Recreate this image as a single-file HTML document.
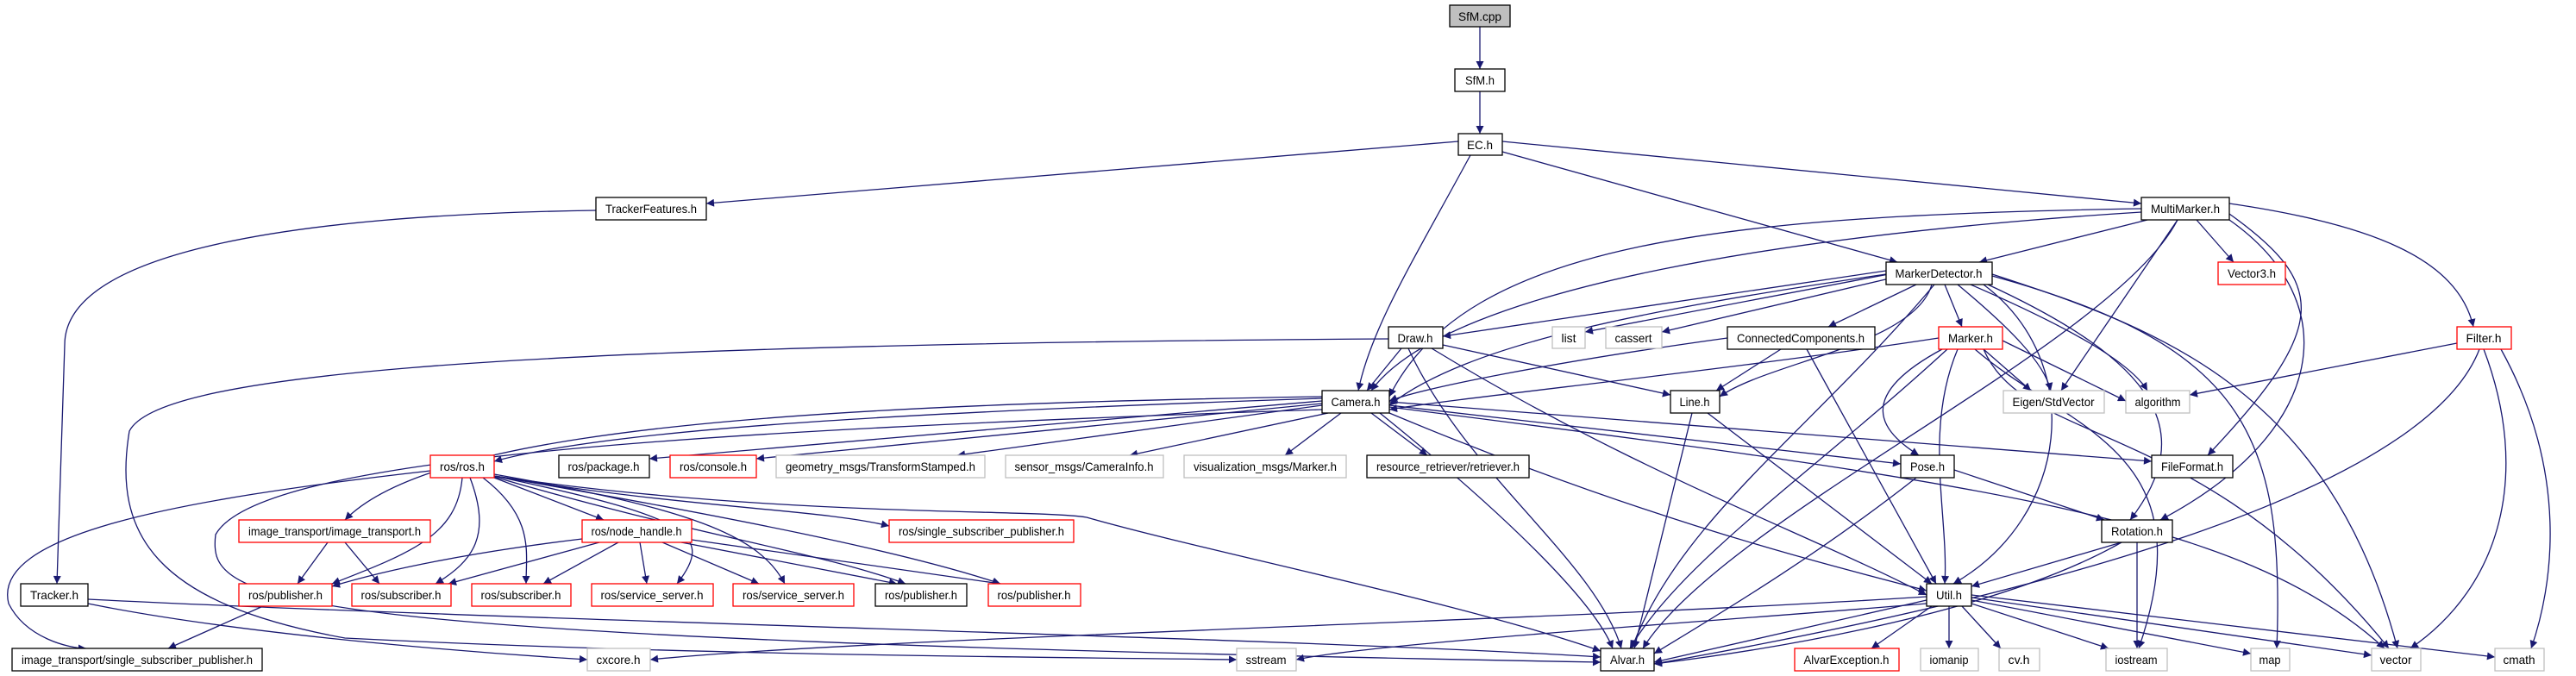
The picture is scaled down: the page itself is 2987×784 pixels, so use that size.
<!DOCTYPE html>
<html><head><meta charset="utf-8"><style>
html,body{margin:0;padding:0;background:#fff;width:2987px;height:784px;overflow:hidden}
svg{display:block}
.e{fill:none;stroke:#191970;stroke-width:1.3;marker-end:url(#a)}
.b{fill:#fff;stroke:#000;stroke-width:1.3}
.r{fill:#fff;stroke:#ff0000;stroke-width:1.3}
.g{fill:#fff;stroke:#bfbfbf;stroke-width:1.3}
text{font-family:"Liberation Sans",sans-serif;font-size:14px;fill:#000;text-anchor:middle}
</style></head><body>
<svg width="2987" height="784" viewBox="0 0 2987 784">
<defs><marker id="a" viewBox="0 0 10 10" refX="10" refY="5" markerWidth="11" markerHeight="9" markerUnits="userSpaceOnUse" orient="auto"><path d="M0,0 L10,5 L0,10 z" fill="#191970"/></marker></defs>
<g>
<path class="e" d="M1716,31 L1716,80"/>
<path class="e" d="M1716,106 L1716,155"/>
<path class="e" d="M1691,164 L819,236"/>
<path class="e" d="M1742,164 L2483,236"/>
<path class="e" d="M1742,176 L2200,304"/>
<path class="e" d="M1705,180 C1640,300 1590,380 1575,453"/>
<path class="e" d="M691,244 C300,250 75,300 75,400 L66,677"/>
<path class="e" d="M102,700 C300,740 600,760 681,765"/>
<path class="e" d="M102,695 C600,720 1500,740 1856,762"/>
<path class="e" d="M2490,255 L2295,304"/>
<path class="e" d="M2483,242 C2000,250 1700,280 1611,460"/>
<path class="e" d="M2483,246 C2100,270 1680,330 1590,453"/>
<path class="e" d="M2525,255 C2450,400 2000,600 1905,752"/>
<path class="e" d="M2547,255 L2590,304"/>
<path class="e" d="M2525,255 L2390,453"/>
<path class="e" d="M2585,248 C2700,330 2700,380 2560,528"/>
<path class="e" d="M2585,255 C2720,350 2700,500 2505,603"/>
<path class="e" d="M2585,236 C2750,260 2850,300 2868,379"/>
<path class="e" d="M2187,314 L1673,390"/>
<path class="e" d="M2190,318 L1838,385"/>
<path class="e" d="M2195,322 L1927,385"/>
<path class="e" d="M2187,318 C1900,360 1700,400 1611,470"/>
<path class="e" d="M2222,330 L2120,379"/>
<path class="e" d="M2255,330 L2275,379"/>
<path class="e" d="M2240,330 C2220,400 2050,420 1994,460"/>
<path class="e" d="M2270,330 C2330,380 2370,420 2378,453"/>
<path class="e" d="M2285,330 C2400,380 2470,420 2490,453"/>
<path class="e" d="M2243,330 C2100,500 1950,600 1892,752"/>
<path class="e" d="M2300,330 C2420,420 2400,600 2265,677"/>
<path class="e" d="M2305,330 C2500,420 2550,500 2470,603"/>
<path class="e" d="M2310,320 C2600,400 2650,500 2640,752"/>
<path class="e" d="M2310,318 C2500,380 2700,450 2780,752"/>
<path class="e" d="M2003,392 C1800,420 1650,450 1611,465"/>
<path class="e" d="M2065,405 L1990,453"/>
<path class="e" d="M2095,405 L2245,677"/>
<path class="e" d="M2248,392 C2000,430 1700,460 1611,475"/>
<path class="e" d="M2300,405 L2355,453"/>
<path class="e" d="M2322,395 L2465,465"/>
<path class="e" d="M2252,405 C2150,460 2180,500 2225,528"/>
<path class="e" d="M2270,405 C2230,500 2260,600 2255,677"/>
<path class="e" d="M2258,405 C2100,550 1950,650 1890,752"/>
<path class="e" d="M2290,405 C2400,500 2560,520 2480,752"/>
<path class="e" d="M2300,405 C2350,520 2550,480 2770,752"/>
<path class="e" d="M2849,398 L2539,458"/>
<path class="e" d="M2875,405 C2800,600 2200,720 1918,770"/>
<path class="e" d="M2880,405 C2935,550 2900,680 2795,752"/>
<path class="e" d="M2900,405 C2980,550 2960,680 2935,752"/>
<path class="e" d="M1625,404 L1585,453"/>
<path class="e" d="M1673,400 L1937,458"/>
<path class="e" d="M1660,404 C1900,550 2100,620 2234,690"/>
<path class="e" d="M1633,404 C1700,550 1850,650 1880,752"/>
<path class="e" d="M1610,393 C500,400 180,440 150,500 C130,620 180,700 400,740 C800,760 1200,762 1434,765"/>
<path class="e" d="M1962,479 L1895,752"/>
<path class="e" d="M1980,479 L2240,677"/>
<path class="e" d="M1533,462 C1000,480 700,500 573,535"/>
<path class="e" d="M1533,465 L753,532"/>
<path class="e" d="M1533,468 L877,532"/>
<path class="e" d="M1533,470 L1110,528"/>
<path class="e" d="M1540,479 L1310,528"/>
<path class="e" d="M1555,479 L1490,528"/>
<path class="e" d="M1590,479 L1655,528"/>
<path class="e" d="M1611,470 L2204,538"/>
<path class="e" d="M1611,466 L2495,535"/>
<path class="e" d="M1611,479 C1900,600 2100,650 2234,685"/>
<path class="e" d="M1600,479 C1750,600 1850,700 1870,752"/>
<path class="e" d="M1533,460 C900,470 500,500 400,603"/>
<path class="e" d="M1611,472 C2300,560 2600,600 2765,752"/>
<path class="e" d="M1533,475 C800,500 300,530 250,620 C240,700 300,740 1856,768"/>
<path class="e" d="M499,546 C200,580 -10,620 10,700 C30,740 80,752 100,752"/>
<path class="e" d="M536,554 C530,620 480,640 385,677"/>
<path class="e" d="M545,554 C570,620 550,650 505,677"/>
<path class="e" d="M560,554 C620,600 610,640 610,677"/>
<path class="e" d="M573,554 L700,603"/>
<path class="e" d="M573,552 C800,600 830,620 785,677"/>
<path class="e" d="M573,550 C800,590 880,620 910,677"/>
<path class="e" d="M573,552 C800,590 950,590 1031,610"/>
<path class="e" d="M573,553 C800,620 950,640 1050,677"/>
<path class="e" d="M573,552 C850,600 1050,640 1160,677"/>
<path class="e" d="M573,552 C900,600 1200,590 1260,600 C1400,640 1700,700 1856,755"/>
<path class="e" d="M380,629 L345,677"/>
<path class="e" d="M400,629 L440,677"/>
<path class="e" d="M675,625 C550,640 450,660 385,680"/>
<path class="e" d="M695,629 L520,677"/>
<path class="e" d="M717,629 L630,677"/>
<path class="e" d="M742,629 L750,677"/>
<path class="e" d="M768,629 L880,677"/>
<path class="e" d="M790,629 L1040,677"/>
<path class="e" d="M802,626 L1160,677"/>
<path class="e" d="M305,703 L195,752"/>
<path class="e" d="M2266,545 L2440,603"/>
<path class="e" d="M2222,554 C2100,650 1980,720 1918,758"/>
<path class="e" d="M2460,629 L2286,680"/>
<path class="e" d="M2460,629 C2300,720 2000,760 1918,770"/>
<path class="e" d="M2478,629 L2478,752"/>
<path class="e" d="M2240,703 L2170,752"/>
<path class="e" d="M2260,703 L2260,752"/>
<path class="e" d="M2275,703 L2320,752"/>
<path class="e" d="M2286,700 L2445,752"/>
<path class="e" d="M2286,696 L2610,758"/>
<path class="e" d="M2286,693 L2750,760"/>
<path class="e" d="M2286,690 L2893,762"/>
<path class="e" d="M2234,696 L1918,768"/>
<path class="e" d="M2234,700 C2000,720 1600,745 1503,765"/>
<path class="e" d="M2234,692 C1800,720 1000,740 754,765"/>
</g>
<g>
<rect x="1681" y="6" width="70" height="25" fill="#bfbfbf" stroke="#000" stroke-width="1.3"/><text x="1716" y="24" textLength="50" lengthAdjust="spacingAndGlyphs">SfM.cpp</text>
<rect class="b" x="1687" y="80" width="58" height="26"/><text x="1716" y="98" textLength="34" lengthAdjust="spacingAndGlyphs">SfM.h</text>
<rect class="b" x="1691" y="155" width="51" height="25"/><text x="1716" y="173" textLength="30" lengthAdjust="spacingAndGlyphs">EC.h</text>
<rect class="b" x="691" y="229" width="128" height="26"/><text x="755" y="247" textLength="106" lengthAdjust="spacingAndGlyphs">TrackerFeatures.h</text>
<rect class="b" x="2483" y="229" width="102" height="26"/><text x="2534" y="247" textLength="80" lengthAdjust="spacingAndGlyphs">MultiMarker.h</text>
<rect class="b" x="2187" y="304" width="123" height="26"/><text x="2248" y="322" textLength="101" lengthAdjust="spacingAndGlyphs">MarkerDetector.h</text>
<rect class="r" x="2572" y="304" width="78" height="26"/><text x="2611" y="322" textLength="56" lengthAdjust="spacingAndGlyphs">Vector3.h</text>
<rect class="b" x="1610" y="379" width="63" height="25"/><text x="1641" y="397" textLength="41" lengthAdjust="spacingAndGlyphs">Draw.h</text>
<rect class="g" x="1800" y="379" width="38" height="25"/><text x="1819" y="397" textLength="17" lengthAdjust="spacingAndGlyphs">list</text>
<rect class="g" x="1862" y="379" width="65" height="25"/><text x="1894" y="397" textLength="43" lengthAdjust="spacingAndGlyphs">cassert</text>
<rect class="b" x="2003" y="379" width="171" height="26"/><text x="2088" y="397" textLength="148" lengthAdjust="spacingAndGlyphs">ConnectedComponents.h</text>
<rect class="r" x="2248" y="379" width="74" height="26"/><text x="2285" y="397" textLength="52" lengthAdjust="spacingAndGlyphs">Marker.h</text>
<rect class="r" x="2849" y="379" width="63" height="26"/><text x="2880" y="397" textLength="41" lengthAdjust="spacingAndGlyphs">Filter.h</text>
<rect class="b" x="1533" y="453" width="78" height="26"/><text x="1572" y="471" textLength="57" lengthAdjust="spacingAndGlyphs">Camera.h</text>
<rect class="b" x="1937" y="453" width="57" height="26"/><text x="1965" y="471" textLength="35" lengthAdjust="spacingAndGlyphs">Line.h</text>
<rect class="g" x="2323" y="453" width="117" height="26"/><text x="2381" y="471" textLength="95" lengthAdjust="spacingAndGlyphs">Eigen/StdVector</text>
<rect class="g" x="2465" y="453" width="74" height="26"/><text x="2502" y="471" textLength="53" lengthAdjust="spacingAndGlyphs">algorithm</text>
<rect class="r" x="499" y="528" width="74" height="26"/><text x="536" y="546" textLength="52" lengthAdjust="spacingAndGlyphs">ros/ros.h</text>
<rect class="b" x="648" y="528" width="105" height="26"/><text x="700" y="546" textLength="83" lengthAdjust="spacingAndGlyphs">ros/package.h</text>
<rect class="r" x="777" y="528" width="100" height="26"/><text x="827" y="546" textLength="78" lengthAdjust="spacingAndGlyphs">ros/console.h</text>
<rect class="g" x="900" y="528" width="242" height="26"/><text x="1021" y="546" textLength="220" lengthAdjust="spacingAndGlyphs">geometry_msgs/TransformStamped.h</text>
<rect class="g" x="1166" y="528" width="183" height="26"/><text x="1257" y="546" textLength="161" lengthAdjust="spacingAndGlyphs">sensor_msgs/CameraInfo.h</text>
<rect class="g" x="1373" y="528" width="188" height="26"/><text x="1467" y="546" textLength="166" lengthAdjust="spacingAndGlyphs">visualization_msgs/Marker.h</text>
<rect class="b" x="1585" y="528" width="188" height="26"/><text x="1679" y="546" textLength="166" lengthAdjust="spacingAndGlyphs">resource_retriever/retriever.h</text>
<rect class="b" x="2204" y="528" width="62" height="26"/><text x="2235" y="546" textLength="40" lengthAdjust="spacingAndGlyphs">Pose.h</text>
<rect class="b" x="2495" y="528" width="94" height="26"/><text x="2542" y="546" textLength="72" lengthAdjust="spacingAndGlyphs">FileFormat.h</text>
<rect class="r" x="277" y="603" width="222" height="26"/><text x="388" y="621" textLength="200" lengthAdjust="spacingAndGlyphs">image_transport/image_transport.h</text>
<rect class="r" x="675" y="603" width="127" height="26"/><text x="738" y="621" textLength="105" lengthAdjust="spacingAndGlyphs">ros/node_handle.h</text>
<rect class="r" x="1031" y="603" width="214" height="26"/><text x="1138" y="621" textLength="192" lengthAdjust="spacingAndGlyphs">ros/single_subscriber_publisher.h</text>
<rect class="b" x="2437" y="603" width="82" height="26"/><text x="2478" y="621" textLength="60" lengthAdjust="spacingAndGlyphs">Rotation.h</text>
<rect class="b" x="24" y="677" width="78" height="26"/><text x="63" y="695" textLength="56" lengthAdjust="spacingAndGlyphs">Tracker.h</text>
<rect class="r" x="277" y="677" width="108" height="26"/><text x="331" y="695" textLength="86" lengthAdjust="spacingAndGlyphs">ros/publisher.h</text>
<rect class="r" x="408" y="677" width="115" height="26"/><text x="465" y="695" textLength="93" lengthAdjust="spacingAndGlyphs">ros/subscriber.h</text>
<rect class="r" x="547" y="677" width="115" height="26"/><text x="604" y="695" textLength="93" lengthAdjust="spacingAndGlyphs">ros/subscriber.h</text>
<rect class="r" x="686" y="677" width="141" height="26"/><text x="756" y="695" textLength="119" lengthAdjust="spacingAndGlyphs">ros/service_server.h</text>
<rect class="r" x="850" y="677" width="140" height="26"/><text x="920" y="695" textLength="118" lengthAdjust="spacingAndGlyphs">ros/service_server.h</text>
<rect class="b" x="1015" y="677" width="106" height="26"/><text x="1068" y="695" textLength="84" lengthAdjust="spacingAndGlyphs">ros/publisher.h</text>
<rect class="r" x="1146" y="677" width="107" height="26"/><text x="1199" y="695" textLength="85" lengthAdjust="spacingAndGlyphs">ros/publisher.h</text>
<rect class="b" x="2234" y="677" width="52" height="26"/><text x="2260" y="695" textLength="30" lengthAdjust="spacingAndGlyphs">Util.h</text>
<rect class="b" x="14" y="752" width="290" height="26"/><text x="159" y="770" textLength="268" lengthAdjust="spacingAndGlyphs">image_transport/single_subscriber_publisher.h</text>
<rect class="g" x="681" y="752" width="73" height="26"/><text x="717" y="770" textLength="51" lengthAdjust="spacingAndGlyphs">cxcore.h</text>
<rect class="g" x="1434" y="752" width="69" height="26"/><text x="1468" y="770" textLength="47" lengthAdjust="spacingAndGlyphs">sstream</text>
<rect class="b" x="1856" y="752" width="62" height="26"/><text x="1887" y="770" textLength="40" lengthAdjust="spacingAndGlyphs">Alvar.h</text>
<rect class="r" x="2081" y="752" width="121" height="26"/><text x="2141" y="770" textLength="99" lengthAdjust="spacingAndGlyphs">AlvarException.h</text>
<rect class="g" x="2227" y="752" width="67" height="26"/><text x="2260" y="770" textLength="45" lengthAdjust="spacingAndGlyphs">iomanip</text>
<rect class="g" x="2318" y="752" width="47" height="26"/><text x="2341" y="770" textLength="25" lengthAdjust="spacingAndGlyphs">cv.h</text>
<rect class="g" x="2442" y="752" width="71" height="26"/><text x="2477" y="770" textLength="49" lengthAdjust="spacingAndGlyphs">iostream</text>
<rect class="g" x="2610" y="752" width="45" height="26"/><text x="2632" y="770" textLength="25" lengthAdjust="spacingAndGlyphs">map</text>
<rect class="g" x="2750" y="752" width="57" height="26"/><text x="2778" y="770" textLength="37" lengthAdjust="spacingAndGlyphs">vector</text>
<rect class="g" x="2893" y="752" width="57" height="26"/><text x="2921" y="770" textLength="37" lengthAdjust="spacingAndGlyphs">cmath</text>
</g>
</svg>
</body></html>
